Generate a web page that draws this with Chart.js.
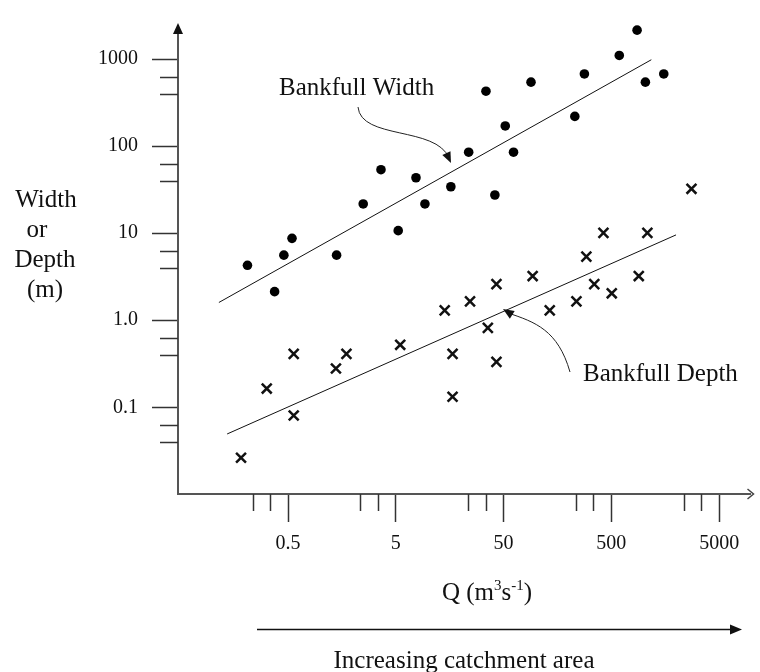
<!DOCTYPE html>
<html>
   <head>
      <title>Bankfull Width and Depth</title>
      <style>
         body {
         margin: 0;
         background: #fff;
         }
         #wrap {
         width: 760px;
         height: 672px;
         }
      </style>
      <script src="https://cdn.jsdelivr.net/npm/chart.js"></script>
   </head>
   <body>
      <div id="wrap"><canvas id="chart" width="760" height="672"></canvas></div>
      <script>
         // Axis ticks (log-log)
         const xMajorTicks = [0.5, 5, 50, 500, 5000];
         const xTickLabels = ['0.5', '5', '50', '500', '5000'];
         const xMinorTicks = [0.235, 0.34, 2.35, 3.4, 23.5, 34, 235, 340, 2350, 3400];
         const yMajorTicks = [0.1, 1, 10, 100, 1000];
         const yTickLabels = ['0.1', '1.0', '10', '100', '1000'];
         const yMinorTicks = [0.04, 0.063, 0.4, 0.63, 4, 6.3, 40, 63, 400, 630];

         // Bankfull width points (Q, width)
         const widthQ = [0.21, 0.375, 0.457, 0.544, 1.41, 2.49, 3.64, 5.26, 7.69, 9.31, 16.2, 23.7,
                         34.3, 41.5, 51.8, 61.8, 89.8, 229, 281, 592, 866, 1034, 1532];
         const widthW = [4.28, 2.13, 5.6, 8.73, 5.6, 21.7, 53.7, 10.7, 43.4, 21.7, 34.2, 85.4,
                         429, 27.5, 171, 85.4, 545, 220, 677, 1104, 2157, 545, 677];

         // Bankfull depth points (Q, depth)
         const depthQ = [0.183, 0.317, 0.564, 0.564, 1.39, 1.74, 5.49, 14.2, 16.8, 16.8, 24.4, 35.7,
                         42.9, 42.9, 93, 134, 237, 293, 347, 422, 504, 898, 1079, 2768];
         const depthD = [0.0263, 0.164, 0.0804, 0.411, 0.279, 0.411, 0.522, 1.3, 0.411, 0.132, 1.65, 0.817,
                         2.6, 0.332, 3.22, 1.3, 1.65, 5.39, 2.6, 10.1, 2.04, 3.22, 10.1, 32.4];

         // Fitted lines (end points)
         const widthFitQ = [0.114, 1174];
         const widthFitW = [1.6, 986];
         const depthFitQ = [0.136, 1991];
         const depthFitD = [0.0493, 9.57];

         const toPoints = (xs, ys) => xs.map((x, i) => ({ x: x, y: ys[i] }));

         Chart.defaults.font.family = '"Liberation Serif", serif';
         Chart.defaults.color = '#111';

         const serif = '"Liberation Serif", serif';

         function arrowHead(ctx, x, y, fromX, fromY, len, half) {
           const ang = Math.atan2(y - fromY, x - fromX);
           ctx.beginPath();
           ctx.moveTo(x, y);
           ctx.lineTo(x - len * Math.cos(ang) + half * Math.sin(ang), y - len * Math.sin(ang) - half * Math.cos(ang));
           ctx.lineTo(x - len * Math.cos(ang) - half * Math.sin(ang), y - len * Math.sin(ang) + half * Math.cos(ang));
           ctx.closePath();
           ctx.fill();
         }

         const extras = {
           id: 'extras',
           afterDraw(chart) {
             const ctx = chart.ctx;
             const xs = chart.scales.x, ys = chart.scales.y;
             const a = chart.chartArea;
             ctx.save();

             // minor tick marks
             ctx.strokeStyle = '#333';
             ctx.lineWidth = 1.5;
             xMinorTicks.forEach(v => {
               const p = Math.round(xs.getPixelForValue(v)) + 0.5;
               ctx.beginPath(); ctx.moveTo(p, a.bottom); ctx.lineTo(p, a.bottom + 17); ctx.stroke();
             });
             yMinorTicks.forEach(v => {
               const p = Math.round(ys.getPixelForValue(v)) + 0.5;
               ctx.beginPath(); ctx.moveTo(a.left - 18, p); ctx.lineTo(a.left, p); ctx.stroke();
             });

             // axis arrow heads
             ctx.fillStyle = '#111';
             arrowHead(ctx, a.left, a.top - 3, a.left, a.top + 20, 11, 5);
             ctx.strokeStyle = '#444';
             ctx.lineWidth = 1.5;
             ctx.beginPath();
             ctx.moveTo(a.right - 3, a.bottom - 5);
             ctx.lineTo(a.right + 3, a.bottom);
             ctx.lineTo(a.right - 3, a.bottom + 5);
             ctx.stroke();

             // annotation text
             ctx.fillStyle = '#111';
             ctx.font = '25px ' + serif;
             ctx.textBaseline = 'alphabetic';
             ctx.textAlign = 'left';
             ctx.fillText('Bankfull Width', 279, 95);
             ctx.fillText('Bankfull Depth', 583, 381);

             // curved pointers
             ctx.strokeStyle = '#222';
             ctx.lineWidth = 1;
             ctx.beginPath();
             ctx.moveTo(358, 107);
             ctx.bezierCurveTo(361, 140, 436, 126, 449, 158);
             ctx.stroke();
             ctx.fillStyle = '#111';
             arrowHead(ctx, 451, 163, 445, 150, 11, 4.5);

             ctx.beginPath();
             ctx.moveTo(570, 372);
             ctx.bezierCurveTo(558, 330, 535, 322, 508, 313);
             ctx.stroke();
             arrowHead(ctx, 503, 309, 514, 316, 11, 4.5);

             // y axis title
             ctx.textAlign = 'center';
             ctx.fillText('Width', 46, 207);
             ctx.fillText('or', 37, 237);
             ctx.fillText('Depth', 45, 267);
             ctx.fillText('(m)', 45, 297);

             // x axis title with superscripts
             const parts = [['Q (m', 25, 0], ['3', 15, -10], ['s', 25, 0], ['-1', 15, -10], [')', 25, 0]];
             let total = 0;
             parts.forEach(p => { ctx.font = p[1] + 'px ' + serif; total += ctx.measureText(p[0]).width; });
             let x = 487 - total / 2;
             ctx.textAlign = 'left';
             parts.forEach(p => {
               ctx.font = p[1] + 'px ' + serif;
               ctx.fillText(p[0], x, 600 + p[2]);
               x += ctx.measureText(p[0]).width;
             });

             // catchment arrow
             ctx.strokeStyle = '#111';
             ctx.lineWidth = 1.5;
             ctx.beginPath(); ctx.moveTo(257, 629.5); ctx.lineTo(732, 629.5); ctx.stroke();
             ctx.fillStyle = '#111';
             arrowHead(ctx, 742, 629.5, 700, 629.5, 12, 5);
             ctx.font = '25px ' + serif;
             ctx.textAlign = 'center';
             ctx.fillText('Increasing catchment area', 464, 668);

             ctx.restore();
           }
         };

         new Chart(document.getElementById('chart'), {
           type: 'scatter',
           data: {
             datasets: [
               {
                 label: 'Width fit',
                 data: toPoints(widthFitQ, widthFitW),
                 showLine: true,
                 borderColor: '#111',
                 borderWidth: 1,
                 pointRadius: 0
               },
               {
                 label: 'Depth fit',
                 data: toPoints(depthFitQ, depthFitD),
                 showLine: true,
                 borderColor: '#111',
                 borderWidth: 1,
                 pointRadius: 0
               },
               {
                 label: 'Bankfull Width',
                 data: toPoints(widthQ, widthW),
                 pointStyle: 'circle',
                 pointRadius: 4.8,
                 backgroundColor: '#000',
                 borderWidth: 0,
                 clip: false
               },
               {
                 label: 'Bankfull Depth',
                 data: toPoints(depthQ, depthD),
                 pointStyle: 'crossRot',
                 pointRadius: 7,
                 borderColor: '#111',
                 borderWidth: 2.5,
                 clip: false
               }
             ]
           },
           options: {
             responsive: false,
             animation: false,
             events: [],
             layout: {
               padding: { top: 13, right: 3, left: 0, bottom: 0 }
             },
             plugins: {
               legend: { display: false },
               tooltip: { enabled: false }
             },
             scales: {
               x: {
                 type: 'logarithmic',
                 position: 'bottom',
                 bounds: 'data',
                 min: 0.0476,
                 max: 9772,
                 afterFit: s => { s.height = 178; },
                 afterBuildTicks: s => { s.ticks = xMajorTicks.map(v => ({ value: v })); },
                 grid: {
                   drawOnChartArea: false,
                   tickLength: 28,
                   tickColor: '#333',
                   tickWidth: 1.5
                 },
                 border: { display: true, color: '#555', width: 2 },
                 ticks: {
                   autoSkip: false,
                   maxRotation: 0,
                   padding: 10,
                   color: '#111',
                   font: { size: 20 },
                   callback: v => {
                     const k = xMajorTicks.indexOf(v);
                     return k >= 0 ? xTickLabels[k] : '';
                   }
                 }
               },
               y: {
                 type: 'logarithmic',
                 position: 'left',
                 bounds: 'data',
                 min: 0.01007,
                 max: 2408,
                 afterFit: s => { s.width = 178; },
                 afterBuildTicks: s => { s.ticks = yMajorTicks.map(v => ({ value: v })); },
                 grid: {
                   drawOnChartArea: false,
                   tickLength: 26,
                   tickColor: '#333',
                   tickWidth: 1.5
                 },
                 border: { display: true, color: '#555', width: 2 },
                 ticks: {
                   autoSkip: false,
                   padding: 14,
                   color: '#111',
                   font: { size: 20 },
                   callback: v => {
                     const k = yMajorTicks.indexOf(v);
                     return k >= 0 ? yTickLabels[k] : '';
                   }
                 }
               }
             }
           },
           plugins: [extras]
         });
      </script>
   </body>
</html>
